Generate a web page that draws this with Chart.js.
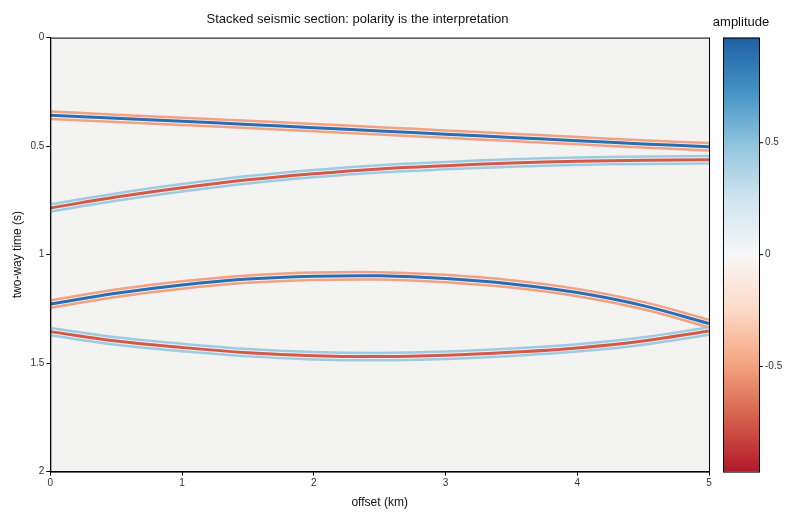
<!DOCTYPE html>
<html><head><meta charset="utf-8">
<script src="https://cdn.jsdelivr.net/npm/chart.js@4"></script>
<style>html,body{margin:0;background:#fff}#w{width:800px;height:520px}</style>
</head><body><div id="w"><canvas id="c"></canvas></div>
<script>
const offsets = [0, 0.5, 1, 1.5, 2, 2.5, 3, 3.5, 4, 4.5, 5];
const horizon1 = [0.358, 0.372, 0.386, 0.400, 0.415, 0.430, 0.445, 0.460, 0.475, 0.490, 0.503];
const horizon2 = [0.785, 0.735, 0.692, 0.655, 0.627, 0.605, 0.590, 0.578, 0.570, 0.565, 0.563];
const horizon3 = [1.228, 1.178, 1.140, 1.113, 1.100, 1.098, 1.110, 1.135, 1.175, 1.235, 1.318];
const horizon4 = [1.355, 1.398, 1.428, 1.452, 1.466, 1.470, 1.464, 1.450, 1.430, 1.398, 1.352];
const polarity = ['pos', 'neg', 'pos', 'neg'];
const xTicks = [0, 1, 2, 3, 4, 5];
const yTicks = [0, 0.5, 1, 1.5, 2];
const cbTicks = [0.5, 0, -0.5];

const horizons = [horizon1, horizon2, horizon3, horizon4];
const style = {
  pos: {center: '#2a6db2', side: '#f2a283'},
  neg: {center: '#d35a48', side: '#9fcbe2'}
};
const datasets = [];
horizons.forEach((h, i) => {
  const s = style[polarity[i]];
  [-0.017, 0.017].forEach(d => datasets.push({
    data: offsets.map((x, k) => ({x, y: h[k] + d})),
    showLine: true, borderColor: s.side, borderWidth: 2.5, pointRadius: 0, tension: 0.4
  }));
  datasets.push({
    data: offsets.map((x, k) => ({x, y: h[k]})),
    showLine: true, borderColor: s.center, borderWidth: 3, pointRadius: 0, tension: 0.4
  });
});

const extras = {
  id: 'extras',
  beforeDraw(chart) {
    const {ctx, chartArea: a} = chart;
    ctx.save(); ctx.fillStyle = '#f3f3f2';
    ctx.fillRect(a.left, a.top, a.right - a.left, a.bottom - a.top); ctx.restore();
  },
  afterDraw(chart) {
    const {ctx, chartArea: a} = chart;
    ctx.save();
    ctx.strokeStyle = '#000'; ctx.lineWidth = 1;
    ctx.strokeRect(a.left + 0.5, a.top + 0.5, a.right - a.left, a.bottom - a.top);
    const x0 = 723, x1 = 759, top = a.top, bot = a.bottom, vmax = 0.97;
    const g = ctx.createLinearGradient(0, top, 0, bot);
    const stops = ['#1f5fa6', '#4393c3', '#92c5de', '#d1e5f0', '#f7f7f7', '#fddbc7', '#f4a582', '#d6604d', '#b2182b'];
    stops.forEach((c, i) => g.addColorStop(i / (stops.length - 1), c));
    ctx.fillStyle = g; ctx.fillRect(x0, top, x1 - x0, bot - top);
    ctx.strokeRect(x0 + 0.5, top + 0.5, x1 - x0, bot - top);
    ctx.fillStyle = '#333'; ctx.font = '10px "Liberation Sans", Arial'; ctx.textBaseline = 'middle';
    cbTicks.forEach(v => {
      const y = top + (vmax - v) / (2 * vmax) * (bot - top);
      ctx.beginPath(); ctx.moveTo(x1, y); ctx.lineTo(x1 + 4, y); ctx.stroke();
      ctx.fillText(String(v), x1 + 6, y);
    });
    ctx.fillStyle = '#111'; ctx.font = '13px "Liberation Sans", Arial'; ctx.textAlign = 'center';
    ctx.fillText('amplitude', 741, 22);
    ctx.restore();
  }
};

new Chart(document.getElementById('c'), {
  type: 'scatter',
  data: {datasets},
  plugins: [extras],
  options: {
    responsive: true, maintainAspectRatio: false, animation: false,
    layout: {padding: {top: 10, right: 91, left: 6, bottom: 6}},
    plugins: {
      legend: {display: false}, tooltip: {enabled: false},
      title: {display: true, text: 'Stacked seismic section: polarity is the interpretation',
        color: '#111', font: {family: '"Liberation Sans", Arial', size: 13, weight: 'normal'}, padding: {top: 2, bottom: 10}}
    },
    scales: {
      x: {type: 'linear', min: 0, max: 5,
        afterBuildTicks: s => { s.ticks = xTicks.map(v => ({value: v})); },
        grid: {drawOnChartArea: false, drawTicks: true, tickLength: 4, color: '#000'},
        border: {color: '#000'},
        ticks: {color: '#333', font: {size: 10, family: '"Liberation Sans", Arial'}, padding: 2, callback: v => String(v)},
        title: {display: true, text: 'offset (km)', color: '#111', font: {size: 12, family: '"Liberation Sans", Arial'}}},
      y: {type: 'linear', min: 0, max: 2, reverse: true,
        afterBuildTicks: s => { s.ticks = yTicks.map(v => ({value: v})); },
        grid: {drawOnChartArea: false, tickLength: 4, color: '#000'},
        border: {color: '#000'},
        ticks: {color: '#333', font: {size: 10, family: '"Liberation Sans", Arial'}, padding: 2, callback: v => String(v)},
        title: {display: true, text: 'two-way time (s)', color: '#111', font: {size: 12, family: '"Liberation Sans", Arial'}}}
    }
  }
});
</script></body></html>
